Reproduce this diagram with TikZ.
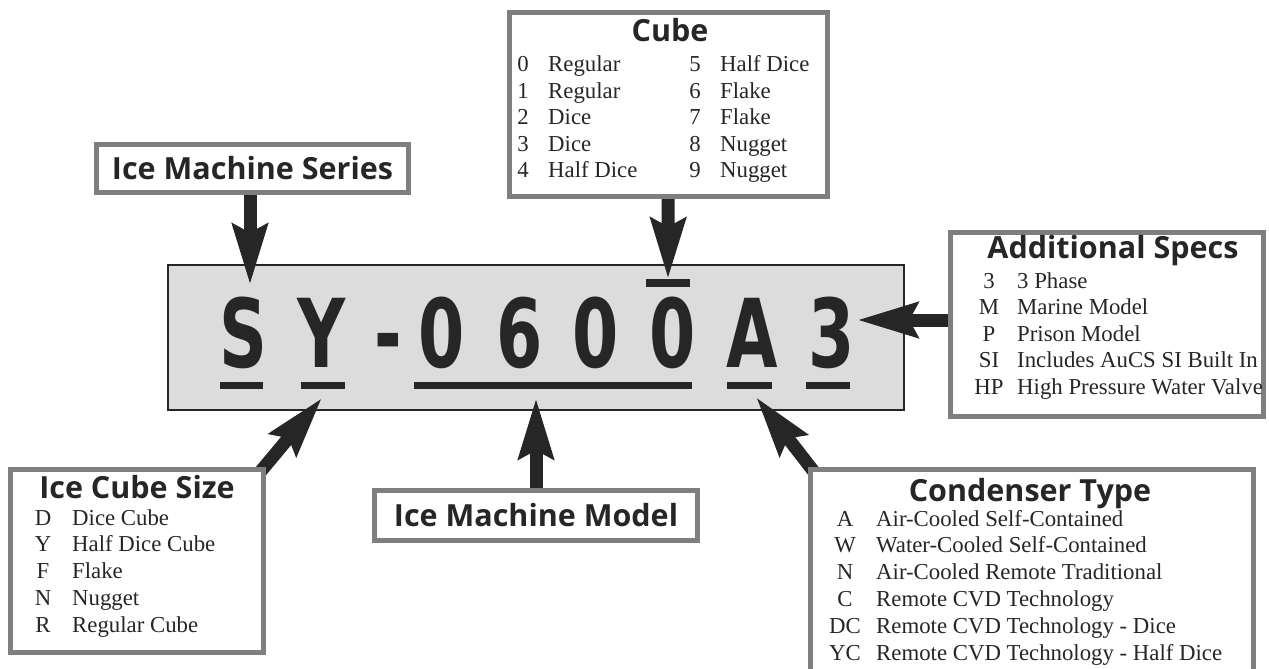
\documentclass[tikz,border=0pt]{standalone}
\usepackage{fontspec}
\usepackage{graphicx}
\usetikzlibrary{arrows.meta}
\setmainfont{Liberation Serif}
\newfontfamily\headfont{Open Sans}
\newfontfamily\bigfont{DejaVu Sans}
\definecolor{ink}{HTML}{262626}
\definecolor{frame}{HTML}{7F7F7F}
\definecolor{panel}{HTML}{DCDCDC}
\pgfdeclarelayer{back}
\pgfdeclarelayer{front}
\pgfsetlayers{back,main,front}
\tikzset{
  labelbox/.style={draw=frame, line width=5pt, fill=white, inner sep=0pt},
  title/.style={font=\headfont\bfseries\fontsize{30.5}{31}\selectfont, text=ink, anchor=base, inner sep=0pt},
  body/.style={font=\fontsize{22.8}{23}\selectfont, text=ink, anchor=base, inner sep=0pt},
  desc/.style={body, anchor=base west},
  bar/.style={fill=ink, inner sep=0pt, outer sep=0pt, minimum height=7pt},
  bigarrow/.style={draw=ink, line width=13pt, -{Stealth[length=60pt,width=34pt,inset=8pt]}},
  bigchar/.style={font=\bigfont\bfseries\fontsize{95}{95}\selectfont, text=ink, anchor=base, inner sep=0pt}
}
\begin{document}
\begin{tikzpicture}[x=1pt,y=-1pt]
\useasboundingbox (0,0) rectangle (1269,669);
\begin{pgfonlayer}{back}
\fill[white] (0,0) rectangle (1269,669);
% central code panel
\node[draw=ink, line width=2pt, fill=panel, inner sep=0pt, minimum width=736pt, minimum height=145pt] (panel) at (536,337.5) {};
% characters
\node[bigchar] (cS) at (243,367) {\scalebox{0.7}[1]{S}};
\node[bigchar] (cY) at (322,367) {\scalebox{0.7}[1]{Y}};
\node[bigchar] (cD) at (388,367) {\scalebox{0.7}[1]{-}};
\node[bigchar] (c0a) at (442,367) {\scalebox{0.7}[1]{0}};
\node[bigchar] (c6) at (520,367) {\scalebox{0.7}[1]{6}};
\node[bigchar] (c0b) at (596,367) {\scalebox{0.7}[1]{0}};
\node[bigchar] (c0c) at (673,367) {\scalebox{0.7}[1]{0}};
\node[bigchar] (cA) at (752,367) {\scalebox{0.7}[1]{A}};
\node[bigchar] (c3) at (832,367) {\scalebox{0.7}[1]{3}};
% under/over lines
\node[bar, minimum width=43pt] (uS) at (241.5,385.5) {};
\node[bar, minimum width=44pt] (uY) at (323,385.5) {};
\node[bar, minimum width=278pt] (uM) at (553,385.5) {};
\node[bar, minimum width=45pt] (uA) at (749.5,385.5) {};
\node[bar, minimum width=44pt] (u3) at (828,385.5) {};
\node[bar, minimum width=44pt, minimum height=8pt] (oC) at (668,283) {};
\end{pgfonlayer}

\begin{pgfonlayer}{front}
% Ice Machine Series
\node[labelbox, minimum width=312pt, minimum height=48pt] (series) at (252.5,168.5) {};
\node[title] (seriesT) at (252.5,179) {Ice Machine Series};
% Cube
\node[labelbox, minimum width=318pt, minimum height=184pt] (cube) at (668.5,104.5) {};
\node[title] (cubeT) at (670,42) {Cube};
\foreach \c/\d [count=\i] in {0/Regular,1/Regular,2/Dice,3/Dice,4/Half Dice}{
  \pgfmathsetmacro\yy{72+26.4*(\i-1)}
  \node[body] (cl\i) at (523,\yy) {\c};
  \node[desc] (dl\i) at (548,\yy) {\d};
}
\foreach \c/\d [count=\i] in {5/Half Dice,6/Flake,7/Flake,8/Nugget,9/Nugget}{
  \pgfmathsetmacro\yy{72+26.4*(\i-1)}
  \node[body] (cr\i) at (695,\yy) {\c};
  \node[desc] (dr\i) at (720,\yy) {\d};
}
% Additional Specs
\node[labelbox, minimum width=313pt, minimum height=184pt] (spec) at (1107,324.5) {};
\node[title] (specT) at (1113,258) {Additional Specs};
\foreach \c/\d [count=\i] in {3/3 Phase,M/Marine Model,P/Prison Model,SI/Includes AuCS SI Built In,HP/High Pressure Water Valve}{
  \pgfmathsetmacro\yy{288+26.5*(\i-1)}
  \node[body] (sc\i) at (989,\yy) {\c};
  \node[desc] (sd\i) at (1017,\yy) {\d};
}
% Ice Cube Size
\node[labelbox, minimum width=253pt, minimum height=183pt] (size) at (137,561) {};
\node[title] (sizeT) at (137,498) {Ice Cube Size};
\foreach \c/\d [count=\i] in {D/Dice Cube,Y/Half Dice Cube,F/Flake,N/Nugget,R/Regular Cube}{
  \pgfmathsetmacro\yy{525+26.8*(\i-1)}
  \node[body] (zc\i) at (43,\yy) {\c};
  \node[desc] (zd\i) at (72,\yy) {\d};
}
% Ice Machine Model
\node[labelbox, minimum width=323pt, minimum height=50pt] (model) at (536,515.5) {};
\node[title] (modelT) at (536,526) {Ice Machine Model};
% Condenser Type
\node[labelbox, minimum width=443pt, minimum height=228pt] (cond) at (1032,583.5) {};
\node[title] (condT) at (1030,501.5) {Condenser Type};
\foreach \c/\d [count=\i] in {A/Air-Cooled Self-Contained,W/Water-Cooled Self-Contained,N/Air-Cooled Remote Traditional,C/Remote CVD Technology,DC/Remote CVD Technology - Dice,YC/Remote CVD Technology - Half Dice}{
  \pgfmathsetmacro\yy{526+26.8*(\i-1)}
  \node[body] (kc\i) at (845,\yy) {\c};
  \node[desc] (kd\i) at (876,\yy) {\d};
}
\end{pgfonlayer}

% arrows (main layer: above panel, below label boxes)
\coordinate (tS) at (250,285);
\coordinate (tY) at (322,398);
\coordinate (tM) at (536,398);
\coordinate (tA) at (756,397);
\coordinate (t3) at (857,320);
\draw[bigarrow] (series.center -| tS) -- (tS);
\draw[bigarrow] (cube.center) -- (oC.north);
\draw[bigarrow] (spec.center |- t3) -- (t3);
\draw[bigarrow] (model.center -| tM) -- (tM);
\draw[bigarrow] ([shift={(-10,10)}]size.north east) -- (tY);
\draw[bigarrow] ([shift={(10,10)}]cond.north west) -- (tA);
\end{tikzpicture}
\end{document}
